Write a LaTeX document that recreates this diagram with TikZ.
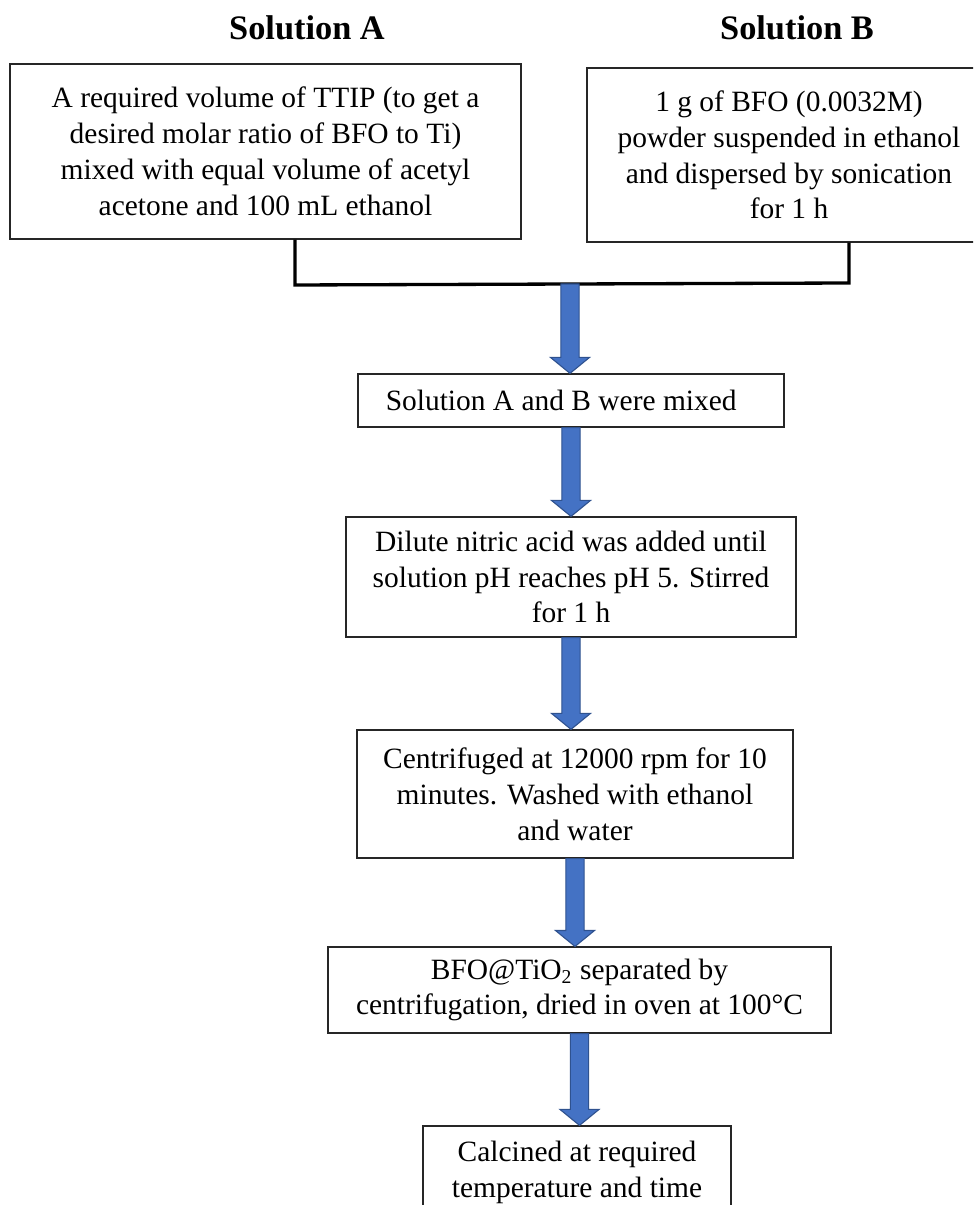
\documentclass[tikz,border=0pt]{standalone}
\usepackage{fontspec}
\setmainfont{Liberation Serif}
\usetikzlibrary{calc}
\definecolor{arrowblue}{HTML}{4472C4}
\definecolor{arrowedge}{HTML}{2F528F}
\tikzstyle{stepbox}=[draw=black!85,line width=0.5pt,align=center,inner sep=0pt,
                     font=\fontsize{12}{14.6}\selectfont]
\tikzstyle{soltitle}=[inner sep=0pt,font=\fontsize{14}{16}\selectfont\bfseries]
\tikzstyle{bracket}=[line width=1.35pt]
\tikzstyle{flowarrow}=[fill=arrowblue,draw=arrowedge,line width=0.45pt,line join=miter]
% block arrow straight down from #1 to the top of #2
\newcommand{\flowarrow}[2]{%
  \filldraw[flowarrow] let \p1=(#1), \p2=(#2) in
    (\x1-3.7pt,\y1) -- (\x1-3.7pt,\y2+6.5pt) -- (\x1-7.95pt,\y2+6.5pt)
    -- (\x1,\y2) -- (\x1+7.95pt,\y2+6.5pt) -- (\x1+3.7pt,\y2+6.5pt)
    -- (\x1+3.7pt,\y1) -- cycle;}

\begin{document}
\begin{tikzpicture}[x=0.4075pt,y=-0.4075pt]
\useasboundingbox (0,0) rectangle (973,1205);
\clip (0,0) rectangle (973,1205);

\node[soltitle] (titleA) at (307,28) {Solution A};
\node[soltitle] (titleB) at (797,28) {Solution B};

\node[stepbox,minimum width=208.2pt,minimum height=71.3pt] (solA) at (265.5,151.5)
  {A required volume of TTIP (to get a\\desired molar ratio of BFO to Ti)\\
   mixed with equal volume of acetyl\\acetone and 100 mL ethanol};
\node[stepbox,minimum width=164.6pt,minimum height=70.9pt] (solB) at (789,155)
  {1 g of BFO (0.0032M)\\powder suspended in ethanol\\and dispersed by sonication\\for 1 h};

% joining bracket
\coordinate (joinL) at (295,285);
\coordinate (joinR) at (849,283);
\coordinate (join) at (570,284);
\draw[bracket] (solA.south -| joinL) -- (joinL) -- (joinR) -- (solB.south -| joinR);

\node[stepbox,minimum width=173.6pt,minimum height=21.6pt] (mix) at (571,400.5)
  {Solution A and B were mixed\hspace*{8pt}};
\node[stepbox,minimum width=183.4pt,minimum height=48.9pt] (acid) at (571,577)
  {Dilute nitric acid was added until\\solution pH reaches pH 5. Stirred\\for 1 h};
\node[stepbox,minimum width=177.7pt,minimum height=52.2pt] (wash) at (575,794)
  {Centrifuged at 12000 rpm for 10\\minutes. Washed with ethanol\\and water};
\node[stepbox,minimum width=205pt,minimum height=35pt] (dry) at (579.5,990)
  {BFO@TiO\textsubscript{2} separated by\\centrifugation, dried in oven at 100°C};
\node[stepbox,minimum width=125.5pt,minimum height=37.5pt] (calc) at (577,1172)
  {Calcined at required\\temperature and time};

\flowarrow{join}{mix.north}
\flowarrow{mix.south}{acid.north}
\flowarrow{acid.south}{wash.north}
\flowarrow{wash.south}{dry.north}
\flowarrow{dry.south}{calc.north}
\end{tikzpicture}
\end{document}
